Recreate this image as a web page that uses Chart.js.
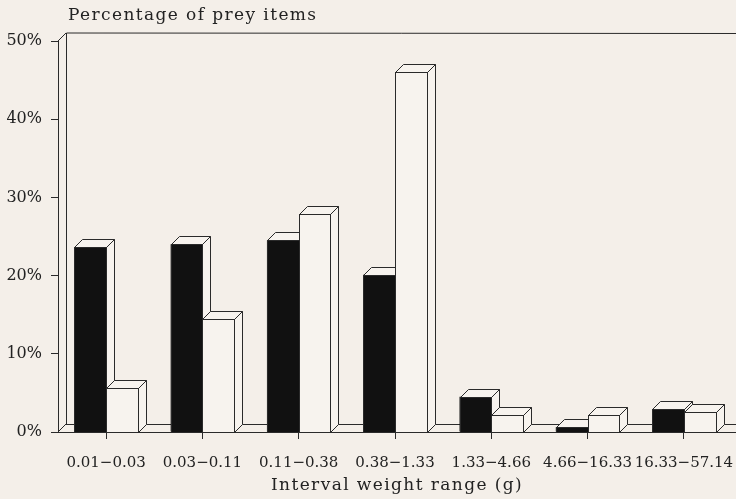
<!DOCTYPE html>
<html>
<head>
<meta charset="utf-8">
<script src="https://cdn.jsdelivr.net/npm/chart.js@4/dist/chart.umd.min.js"></script>
<style>
  html, body { margin: 0; padding: 0; background: #f4efe9; }
  #wrap { width: 736px; height: 499px; }
</style>
</head>
<body>
<div id="wrap"><canvas id="c" width="736" height="499"></canvas></div>
<script>
const categories = ['0.01\u22120.03', '0.03\u22120.11', '0.11\u22120.38', '0.38\u22121.33', '1.33\u22124.66', '4.66\u221216.33', '16.33\u221257.14'];
const blackSeries = [23.6, 24.0, 24.5, 20.1, 4.5, 0.6, 2.9];
const whiteSeries = [5.6, 14.5, 27.9, 46.0, 2.2, 2.2, 2.5];
const yTickValues = [0, 10, 20, 30, 40, 50];
const yTitle = 'Percentage of prey items';
const xTitle = 'Interval weight range (g)';

const BG = '#f4efe9';
const LIGHT = '#f7f3ee';
const DARK = '#111111';
const EDGE = '#2a2a2a';
const DEPTH = 8;
const FONT = '"DejaVu Serif", "Liberation Serif", serif';

const threeD = {
  id: 'threeD',
  beforeDatasetsDraw(chart) {
    const ctx = chart.ctx;
    const a = chart.chartArea;
    const y0 = chart.scales.y.getPixelForValue(0);
    const yTop = chart.scales.y.getPixelForValue(50);
    ctx.save();
    ctx.strokeStyle = EDGE;
    ctx.lineWidth = 1;
    ctx.beginPath();
    ctx.moveTo(a.left + DEPTH + 0.5, y0 - DEPTH);
    ctx.lineTo(a.left + DEPTH + 0.5, yTop - DEPTH);
    ctx.lineTo(chart.width, yTop - DEPTH + 0.5);
    ctx.moveTo(a.left, yTop);
    ctx.lineTo(a.left + DEPTH, yTop - DEPTH);
    ctx.moveTo(a.left + DEPTH, y0 - DEPTH + 0.5);
    ctx.lineTo(chart.width, y0 - DEPTH + 0.5);
    ctx.moveTo(a.left, y0);
    ctx.lineTo(a.left + DEPTH, y0 - DEPTH);
    ctx.stroke();
    ctx.beginPath();
    ctx.moveTo(a.left, y0 + 0.5);
    ctx.lineTo(chart.width, y0 + 0.5);
    ctx.stroke();
    ctx.restore();
  },
  afterDatasetsDraw(chart) {
    const ctx = chart.ctx;
    const metas = [chart.getDatasetMeta(0), chart.getDatasetMeta(1)];
    const fronts = [DARK, LIGHT];
    ctx.save();
    ctx.strokeStyle = EDGE;
    ctx.lineWidth = 1;
    for (let i = 0; i < categories.length; i++) {
      for (let s = 0; s < 2; s++) {
        const el = metas[s].data[i];
        const p = el.getProps(['x', 'y', 'base', 'width'], true);
        const L = Math.round(p.x - p.width / 2) + 0.5;
        const R = Math.round(p.x + p.width / 2) + 0.5;
        const T = Math.round(p.y) + 0.5;
        const B = Math.round(p.base) + 0.5;
        ctx.beginPath();
        ctx.moveTo(R, B);
        ctx.lineTo(R + DEPTH, B - DEPTH);
        ctx.lineTo(R + DEPTH, T - DEPTH);
        ctx.lineTo(R, T);
        ctx.closePath();
        ctx.fillStyle = LIGHT;
        ctx.fill();
        ctx.stroke();
        ctx.beginPath();
        ctx.moveTo(L, T);
        ctx.lineTo(L + DEPTH, T - DEPTH);
        ctx.lineTo(R + DEPTH, T - DEPTH);
        ctx.lineTo(R, T);
        ctx.closePath();
        ctx.fillStyle = LIGHT;
        ctx.fill();
        ctx.stroke();
        ctx.fillStyle = fronts[s];
        ctx.fillRect(L, T, R - L, B - T);
        ctx.strokeRect(L, T, R - L, B - T);
      }
    }
    ctx.restore();
  },
  afterDraw(chart) {
    const ctx = chart.ctx;
    const a = chart.chartArea;
    ctx.save();
    ctx.font = '17px ' + FONT;
    ctx.fillStyle = '#222';
    ctx.textBaseline = 'middle';
    try { ctx.letterSpacing = '1.4px'; } catch (e) {}
    ctx.textAlign = 'left';
    ctx.fillText(yTitle, 68, 16);
    ctx.textAlign = 'center';
    ctx.fillText(xTitle, (a.left + a.right) / 2 + 2, 486);
    ctx.restore();
  }
};

const bgPlugin = {
  id: 'bg',
  beforeDraw(chart) {
    const ctx = chart.ctx;
    ctx.save();
    ctx.fillStyle = BG;
    ctx.fillRect(0, 0, chart.width, chart.height);
    ctx.restore();
  }
};

new Chart(document.getElementById('c'), {
  type: 'bar',
  data: {
    labels: categories,
    datasets: [
      { label: 'Series 1', data: blackSeries, backgroundColor: DARK, borderWidth: 0 },
      { label: 'Series 2', data: whiteSeries, backgroundColor: LIGHT, borderWidth: 0 }
    ]
  },
  options: {
    responsive: false,
    animation: false,
    devicePixelRatio: 1,
    layout: { padding: { top: 41, right: 4, left: 0, bottom: 0 } },
    datasets: { bar: { categoryPercentage: 0.66, barPercentage: 1.0 } },
    plugins: {
      legend: { display: false },
      tooltip: { enabled: false },
      title: { display: false }
    },
    scales: {
      x: {
        afterFit(scale) { scale.height = 67; scale.paddingLeft = 0; scale.paddingRight = 0; },
        grid: { display: true, drawOnChartArea: false, offset: false, tickLength: 7, color: EDGE },
        border: { display: true, color: EDGE },
        ticks: {
          color: '#222', font: { family: FONT, size: 15 }, padding: 15,
          maxRotation: 0, minRotation: 0, autoSkip: false
        },
        title: { display: false }
      },
      y: {
        min: 0, max: 50,
        afterFit(scale) { scale.width = 58; scale.paddingTop = 0; scale.paddingBottom = 0; },
        afterBuildTicks(scale) { scale.ticks = yTickValues.map(v => ({ value: v })); },
        grid: { display: true, drawOnChartArea: false, tickLength: 7, color: EDGE },
        border: { display: true, color: EDGE },
        ticks: {
          color: '#222', font: { family: FONT, size: 16 }, padding: 9,
          callback: v => v + '%'
        }
      }
    }
  },
  plugins: [bgPlugin, threeD]
});
</script>
</body>
</html>
